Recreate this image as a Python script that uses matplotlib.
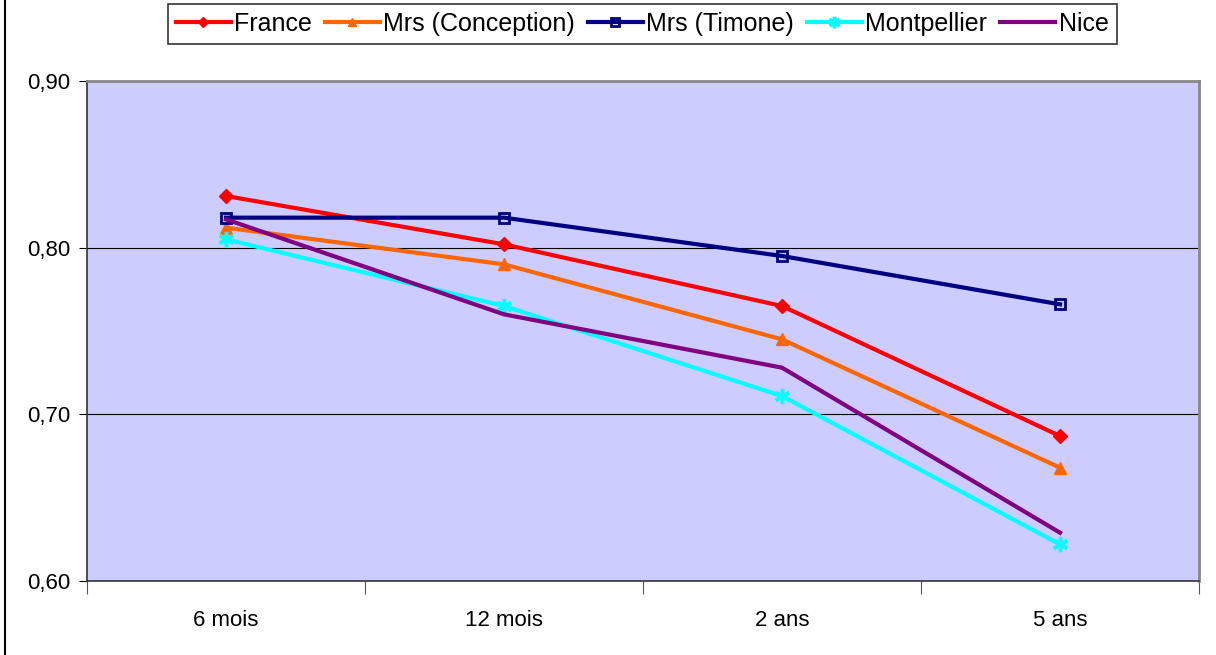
import matplotlib
matplotlib.use("Agg")
import matplotlib.pyplot as plt
from matplotlib.lines import Line2D

plt.rcParams['font.family'] = ['Liberation Sans', 'DejaVu Sans']

categories = ["6 mois", "12 mois", "2 ans", "5 ans"]
series_names = ["France", "Mrs (Conception)", "Mrs (Timone)", "Montpellier", "Nice"]
france = [0.831, 0.802, 0.765, 0.687]
conception = [0.812, 0.790, 0.745, 0.668]
timone = [0.818, 0.818, 0.795, 0.766]
montpellier = [0.805, 0.765, 0.711, 0.622]
nice = [0.817, 0.760, 0.728, 0.629]
y_ticks = [0.60, 0.70, 0.80, 0.90]

styles = [
    dict(color="#FF0000", marker="D", ms=7, mfc="#FF0000", mec="#FF0000"),
    dict(color="#FF6600", marker="^", ms=8, mfc="#FF6600", mec="#FF6600"),
    dict(color="#000080", marker="s", ms=7, mfc="none", mec="#000080", mew=2),
    dict(color="#00FFFF", marker=(6, 2, 0), ms=11, mfc="#00FFFF", mec="#00FFFF", mew=2.5),
    dict(color="#800080", marker="None"),
]
values = [france, conception, timone, montpellier, nice]

W, H = 1216, 655
fig = plt.figure(figsize=(W / 100, H / 100), dpi=100)
ax = fig.add_axes([87 / W, (H - 581) / H, (1199 - 87) / W, 500 / H])
ax.set_facecolor("#CCCCFF")

x = list(range(len(categories)))
for name, vals, st in zip(series_names, values, styles):
    ax.plot(x, vals, lw=3, label=name, zorder=3, **st)

ax.set_xlim(-0.5, len(categories) - 0.5)
ax.set_ylim(0.60, 0.90)
ax.set_yticks(y_ticks)
ax.set_yticklabels([f"{v:.2f}".replace(".", ",") for v in y_ticks], fontsize=16)
ax.yaxis.grid(True, color="black", lw=0.8)
ax.set_axisbelow(True)

ax.set_xticks(x)
ax.set_xticklabels(categories, fontsize=16)
ax.tick_params(axis="x", which="major", length=0, pad=21)
ax.set_xticks([i - 0.5 for i in range(len(categories) + 1)], minor=True)
ax.tick_params(axis="x", which="minor", length=9, width=0.8, color="#555555")
ax.tick_params(axis="y", length=6, width=0.8, pad=6)

for side in ("top", "right"):
    ax.spines[side].set_color("#888888")
    ax.spines[side].set_linewidth(2)
for side in ("left", "bottom"):
    ax.spines[side].set_color("#333333")
    ax.spines[side].set_linewidth(1.2)

leg = fig.legend(loc="center", bbox_to_anchor=(642 / W, 1 - 24 / H), ncol=5,
                 fontsize=18, frameon=True, fancybox=False, edgecolor="black",
                 handlelength=2.2, handletextpad=0.15, columnspacing=0.5,
                 borderpad=0.32, markerscale=0.75)
leg.get_frame().set_linewidth(1.2)

# left edge rule of the chart frame
fig.add_artist(Line2D([5 / W, 5 / W], [0, 1], color="black", lw=1.5))

fig.savefig("out.png", dpi=100)
